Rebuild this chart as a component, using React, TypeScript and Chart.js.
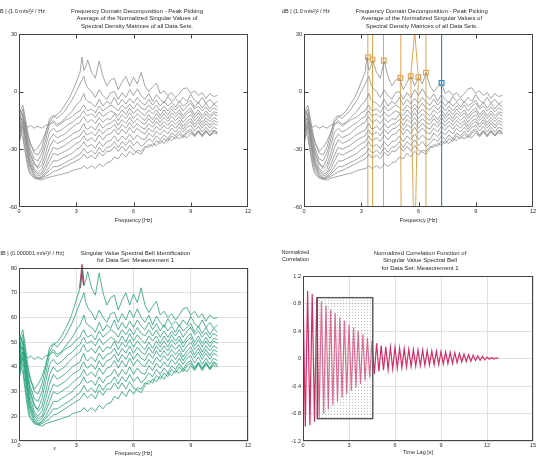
import { useEffect, useRef } from "react";
import { Chart, registerables } from "chart.js";
Chart.register(...registerables);

const FONT = "'Liberation Sans', Arial, sans-serif";

// ---------- spectra (dB re (0.000001 m/s²)² / Hz, Measurement 1 view) ----------
const FREQ_HZ = [0, 0.1, 0.2, 0.3, 0.4, 0.5, 0.6, 0.8, 1.0, 1.2, 1.4, 1.6, 1.8, 2.0, 2.2, 2.4, 2.6, 2.8, 3.0, 3.2, 3.3, 3.4, 3.5, 3.6, 3.8, 4.0, 4.2, 4.4, 4.6, 4.8, 5.0, 5.2, 5.4, 5.6, 5.8, 6.0, 6.2, 6.4, 6.6, 6.8, 7.0, 7.2, 7.4, 7.6, 7.8, 8.0, 8.2, 8.4, 8.6, 8.8, 9.0, 9.2, 9.4, 9.6, 9.8, 10.0, 10.2, 10.4];

const SV_01 = [44, 50, 53, 48, 42, 38, 35, 31, 33, 36, 41, 46, 49, 50, 52, 55, 58, 62, 67, 72, 80, 73, 75, 78.5, 72, 69, 78, 70, 65, 68, 69, 63, 67, 70, 65, 69.5, 66, 72, 65, 62, 64.5, 66.5, 61, 62.5, 60, 61.5, 59, 61, 63.5, 64, 61, 62.5, 60, 61.5, 58.5, 61, 59.5, 60];
const SV_02 = [48, 53, 55, 50, 44, 39, 35, 30, 29, 33, 40, 48, 49.5, 48, 50, 52, 55, 58, 62, 66, 68, 70, 66, 64, 62, 59, 63, 60, 58, 61.5, 62, 58, 61.5, 59, 63, 60, 63.5, 60, 58, 61, 57, 60.5, 58, 56, 59.5, 57, 58.5, 56.5, 59, 57, 60.5, 57.5, 56, 59, 56, 58, 55.5, 57];
const SV_03 = [42, 47, 50, 46, 41, 36, 32, 27, 26, 30, 37, 45, 47, 45, 46, 48, 50, 52, 55, 57, 59, 61, 58, 57, 56, 54, 58, 54.5, 57, 55.5, 59, 55, 58, 55.5, 58.5, 56, 59, 56.5, 55, 58, 55, 57.5, 54.5, 57, 54.5, 56.5, 54, 57, 54.5, 56, 57.5, 54, 56.5, 53.5, 56, 53, 55.5, 54];
const SV_04 = [40, 44, 46, 45, 44, 43.5, 44.5, 43, 44, 43, 44.5, 45, 46, 44, 45.5, 47, 48, 49, 51, 52, 54, 55, 53, 52, 53, 51, 54.5, 52, 53.5, 55, 54, 52, 55, 53, 55.5, 53, 56, 53.5, 52.5, 55, 52.5, 55, 52, 54.5, 52, 54.5, 52.5, 55, 52, 54.5, 56, 53, 54.5, 52, 54, 51.5, 53.5, 52.5];
const SV_05 = [38, 45, 48, 44, 38, 33, 29, 24, 23, 27, 34, 41, 43, 41, 42, 43.5, 45, 46, 48, 49, 51, 52, 50, 49.5, 50.5, 48.5, 51.5, 49, 50.5, 52, 51, 49.5, 52.5, 50, 53.5, 50.5, 53, 51, 49.5, 52.5, 50.5, 52.5, 49.5, 52.5, 50, 53, 50.5, 52.5, 49.5, 52, 53.5, 50, 52.5, 49.5, 52, 49.5, 51.5, 51];
const SV_06 = [46, 50, 51, 45, 39, 34, 30, 25, 22, 24, 30, 37, 40, 38, 39, 40, 42, 43.5, 45, 46, 48, 49, 47, 46, 47.5, 45.5, 48.5, 46, 48, 47.5, 50.5, 47, 50, 48, 51, 48, 50.5, 48.5, 47, 50, 47.5, 50.5, 48, 50.5, 48, 51, 49, 51, 48, 50.5, 52, 48.5, 51, 48, 50.5, 48, 50.5, 49.5];
const SV_07 = [36, 42, 46, 42, 36, 31, 27, 22, 20, 22, 27, 33, 37, 35, 36, 37, 38.5, 40, 41, 42, 44, 45.5, 43, 42.5, 44, 42, 45.5, 43, 45, 45.5, 47.5, 44.5, 47.5, 45.5, 48.5, 45.5, 48, 46, 45, 48, 45.5, 48.5, 46, 48.5, 46.5, 49, 47, 49, 46, 48.5, 50, 47, 49, 46, 48.5, 46.5, 48.5, 47.5];
const SV_08 = [50, 52, 49, 42, 35, 29, 25, 21, 19, 20, 24, 29, 33, 32, 33, 34, 35.5, 37, 38, 39, 41, 42, 40, 39.5, 41, 39, 42.5, 40, 42.5, 43, 45, 42, 45, 43, 46, 43, 45.5, 43.5, 42.5, 45.5, 43.5, 46.5, 44, 46.5, 44.5, 47, 45, 47, 44, 46.5, 48, 45, 47.5, 44.5, 47, 44.5, 47, 46];
const SV_09 = [34, 40, 44, 40, 34, 28, 24, 20, 18, 19, 22, 26, 30, 29, 30, 31, 32, 33.5, 35, 36, 37.5, 39, 37, 36.5, 38, 36, 39.5, 37, 39.5, 40, 42.5, 39.5, 42.5, 40, 43.5, 40.5, 43, 41, 40, 43, 41, 44, 42, 44.5, 42.5, 45, 43, 45.5, 42.5, 45, 46.5, 43.5, 46, 43, 45.5, 43, 45.5, 44.5];
const SV_10 = [44, 48, 47, 40, 33, 27, 23, 19, 17, 18, 20, 23, 26, 26, 27, 28, 29, 30, 32, 33, 34.5, 36, 34, 33.5, 34.5, 32.5, 36, 33.5, 36, 36.5, 39, 36, 39, 37, 40, 37, 39.5, 37.5, 37, 40.5, 38.5, 41.5, 39.5, 42, 40, 43, 41, 43.5, 41, 43.5, 44.5, 41.5, 44, 41, 43.5, 41, 43.5, 42.5];
const SV_11 = [40, 45, 43, 37, 31, 25, 22, 18, 17, 17.5, 19, 21, 23, 23, 24, 25, 26, 27, 28.5, 29.5, 31, 32.5, 31, 30, 31.5, 29.5, 33, 30.5, 33, 33.5, 36, 33, 36, 34, 37, 34, 36, 33.5, 35, 37.5, 36, 39, 37, 39.5, 37.5, 40.5, 39, 41.5, 39, 41.5, 42.5, 39.5, 42, 39.5, 42, 39.5, 42, 41];
const SV_12 = [38, 43, 40, 34, 28, 23, 20, 17.5, 16.5, 17, 18, 19, 20.5, 21, 22, 23, 24, 25, 26, 27, 28, 29.5, 28, 27.5, 29, 27, 30.5, 28.5, 31, 31, 33.5, 31, 33.5, 31, 34, 31.5, 30.5, 29.5, 32.5, 34.5, 33.5, 36.5, 35, 37.5, 36, 39, 37.5, 40, 38, 40.5, 41.5, 39, 41.5, 39, 41.5, 39, 41.5, 40.5];
const SV_13 = [35, 40, 38, 32, 26, 21, 19, 17, 16.5, 16, 17, 17.5, 18, 18.5, 19, 19.5, 20, 21, 21.5, 22, 22.5, 23.5, 22.5, 22, 23.5, 22, 24.5, 23, 25, 25.5, 28, 27, 30, 28, 31, 29, 31.5, 31, 33.5, 33, 35, 34, 36.5, 35, 37.5, 36.5, 38.5, 37.5, 39, 38, 40.5, 38.5, 41, 38.5, 41, 39, 40.5, 40];
const SV_LINES = [SV_01, SV_02, SV_03, SV_04, SV_05, SV_06, SV_07, SV_08, SV_09, SV_10, SV_11, SV_12, SV_13];

// level difference between the Measurement 1 view and the averaged view (dB)
const AVERAGE_VIEW_SHIFT_DB = 62;

// spectral bell (red) on the first singular value
const BELL_FREQ_HZ = [3.2, 3.3, 3.4];

// peak picking cursors (averaged view)
const PEAK_FREQ_HZ = [3.35, 3.59, 4.18, 5.05, 5.59, 5.99, 6.39];
const PEAK_DB = [18.0, 16.7, 16.1, 7.1, 8.0, 7.5, 9.9];
const CURSOR_TOP_HZ = [3.34, 3.59, 4.15, 5.07, 5.84, 5.77, 6.39];
const CURSOR_BOTTOM_HZ = [3.33, 3.59, 4.15, 5.09, 5.74, 5.84, 6.38];
const SELECTED_FREQ_HZ = [7.21];
const SELECTED_DB = [4.5];

// ---------- normalized correlation function ----------
const CORR_LAG_S = [0, 0.15, 0.3, 0.45, 0.6, 0.75, 0.9, 1.05, 1.2, 1.35, 1.5, 1.65, 1.8, 1.95, 2.1, 2.25, 2.4, 2.55, 2.7, 2.85, 3.0, 3.15, 3.3, 3.45, 3.6, 3.75, 3.9, 4.05, 4.2, 4.35, 4.5, 4.65, 4.8, 4.95, 5.1, 5.25, 5.4, 5.55, 5.7, 5.85, 6.0, 6.15, 6.3, 6.45, 6.6, 6.75, 6.9, 7.05, 7.2, 7.35, 7.5, 7.65, 7.8, 7.95, 8.1, 8.25, 8.4, 8.55, 8.7, 8.85, 9.0, 9.15, 9.3, 9.45, 9.6, 9.75, 9.9, 10.05, 10.2, 10.35, 10.5, 10.65, 10.8, 10.95, 11.1, 11.25, 11.4, 11.55, 11.7, 11.85, 12.0, 12.15, 12.3, 12.45, 12.6, 12.75];
const CORR_VALUE = [1.0, -0.99, 0.98, -0.97, 0.94, -0.92, 0.89, -0.86, 0.83, -0.8, 0.77, -0.74, 0.71, -0.68, 0.66, -0.63, 0.6, -0.57, 0.55, -0.52, 0.49, -0.47, 0.45, -0.42, 0.4, -0.37, 0.35, -0.32, 0.3, -0.28, 0.26, -0.23, 0.22, -0.19, 0.19, -0.17, 0.17, -0.16, 0.165, -0.15, 0.16, -0.14, 0.15, -0.13, 0.14, -0.12, 0.135, -0.115, 0.13, -0.11, 0.125, -0.105, 0.12, -0.1, 0.115, -0.095, 0.11, -0.09, 0.105, -0.085, 0.1, -0.08, 0.095, -0.075, 0.09, -0.07, 0.085, -0.06, 0.075, -0.05, 0.065, -0.045, 0.055, -0.04, 0.05, -0.03, 0.04, -0.025, 0.03, -0.02, 0.02, -0.01, 0.015, -0.008, 0.01, 0.0];
const FIT_WINDOW_LAG_S = [0.93, 4.55];
const FIT_WINDOW_VALUE = [-0.875, 0.885];

// ---------- colours ----------
const GRAY = "#8d8d8d";
const GREEN = "#24a07a";
const RED = "#e0195a";
const ORANGE = "#e2a552";
const BLUE = "#2f8fd0";
const CORR = "#d42c66";
const TEXT = "#2a2a2a";

type Txt = { text: string; x: number; y: number; size: number; align?: CanvasTextAlign };
type Decor = { innerX?: number[]; innerY?: number[]; texts: Txt[]; box?: boolean };

function makeDecor(d: Decor) {
  return {
    id: "decor",
    afterDatasetsDraw(chart: any) {
      if (!d.box) return;
      const { ctx } = chart;
      const xs = chart.scales.x;
      const ys = chart.scales.y;
      const x0 = xs.getPixelForValue(FIT_WINDOW_LAG_S[0]);
      const x1 = xs.getPixelForValue(FIT_WINDOW_LAG_S[1]);
      const y0 = ys.getPixelForValue(FIT_WINDOW_VALUE[1]);
      const y1 = ys.getPixelForValue(FIT_WINDOW_VALUE[0]);
      const pc = document.createElement("canvas");
      pc.width = 3;
      pc.height = 3;
      const p = pc.getContext("2d")!;
      p.fillStyle = "rgba(255,255,255,0.3)";
      p.fillRect(0, 0, 3, 3);
      p.fillStyle = "rgba(100,100,100,0.4)";
      p.fillRect(1, 1, 1, 1);
      const pattern = ctx.createPattern(pc, "repeat");
      ctx.save();
      ctx.fillStyle = pattern;
      ctx.fillRect(x0, y0, x1 - x0, y1 - y0);
      ctx.strokeStyle = "#555";
      ctx.lineWidth = 1.4;
      ctx.strokeRect(x0, y0, x1 - x0, y1 - y0);
      ctx.restore();
    },
    afterDraw(chart: any) {
      const { ctx, chartArea: a } = chart;
      const xs = chart.scales.x;
      const ys = chart.scales.y;
      ctx.save();
      ctx.strokeStyle = "#444";
      ctx.lineWidth = 1;
      const L = Math.round(a.left) + 0.5;
      const R = Math.round(a.right) - 0.5;
      const T = Math.round(a.top) + 0.5;
      const B = Math.round(a.bottom) - 0.5;
      ctx.strokeRect(L, T, R - L, B - T);
      ctx.beginPath();
      (d.innerX || []).forEach((v) => {
        const px = Math.round(xs.getPixelForValue(v)) + 0.5;
        ctx.moveTo(px, T);
        ctx.lineTo(px, T + 4);
        ctx.moveTo(px, B);
        ctx.lineTo(px, B - 4);
      });
      (d.innerY || []).forEach((v) => {
        const py = Math.round(ys.getPixelForValue(v)) + 0.5;
        ctx.moveTo(L, py);
        ctx.lineTo(L + 4, py);
        ctx.moveTo(R, py);
        ctx.lineTo(R - 4, py);
      });
      ctx.stroke();
      ctx.fillStyle = TEXT;
      ctx.textBaseline = "middle";
      d.texts.forEach((t) => {
        ctx.font = `${t.size}px ${FONT}`;
        ctx.textAlign = t.align || "center";
        ctx.fillText(t.text, t.x, t.y);
      });
      ctx.restore();
    },
  };
}

type AxisSpec = {
  xMin: number; xMax: number; xStep: number;
  yMin: number; yMax: number; yStep: number;
  grid: boolean; yWidth: number; xHeight: number;
  xTitle: string; xTitlePad: number;
  padding: { left: number; top: number; right: number; bottom: number };
};

function buildOptions(s: AxisSpec) {
  const f = { family: FONT, size: 5.5 };
  return {
    responsive: false,
    animation: false as const,
    devicePixelRatio: 1,
    events: [],
    layout: { padding: s.padding },
    plugins: { legend: { display: false }, tooltip: { enabled: false }, title: { display: false } },
    elements: { point: { radius: 0 }, line: { tension: 0 } },
    scales: {
      x: {
        type: "linear" as const,
        min: s.xMin,
        max: s.xMax,
        ticks: { stepSize: s.xStep, font: f, color: TEXT, padding: 1, maxRotation: 0, autoSkip: false },
        grid: { display: s.grid, color: "#e0e0e0", lineWidth: 1, drawTicks: false },
        border: { display: false },
        title: { display: true, text: s.xTitle, font: f, color: TEXT, padding: { top: 0, bottom: s.xTitlePad } },
        afterFit: (sc: any) => { sc.height = s.xHeight; },
      },
      y: {
        type: "linear" as const,
        min: s.yMin,
        max: s.yMax,
        ticks: { stepSize: s.yStep, font: f, color: TEXT, padding: 2, autoSkip: false },
        grid: { display: s.grid, color: "#e0e0e0", lineWidth: 1, drawTicks: false },
        border: { display: false },
        afterFit: (sc: any) => { sc.width = s.yWidth; },
      },
    },
  };
}

function spectrumSets(shift: number, color: string) {
  return SV_LINES.map((line) => ({
    data: FREQ_HZ.map((fq, i) => ({ x: fq, y: line[i] - shift })),
    borderColor: color,
    borderWidth: 0.8,
    pointRadius: 0,
    fill: false,
  }));
}

function configA() {
  return {
    type: "line" as const,
    data: { datasets: spectrumSets(AVERAGE_VIEW_SHIFT_DB, GRAY) },
    options: buildOptions({
      xMin: 0, xMax: 12, xStep: 3, yMin: -60, yMax: 30, yStep: 30, grid: false,
      yWidth: 19, xHeight: 23, xTitle: "Frequency [Hz]", xTitlePad: 6.5,
      padding: { left: 0, top: 34, right: 22, bottom: 0 },
    }),
    plugins: [makeDecor({
      innerX: [3, 6, 9], innerY: [0, -30],
      texts: [
        { text: "dB | (1.0 m/s²)² / Hz", x: -3, y: 11, size: 5.5, align: "left" },
        { text: "Frequency Domain Decomposition - Peak Picking", x: 137, y: 11.5, size: 6 },
        { text: "Average of the Normalized Singular Values of", x: 137, y: 18.8, size: 6 },
        { text: "Spectral Density Matrices of all Data Sets.", x: 137, y: 26.1, size: 6 },
      ],
    })],
  };
}

function configB() {
  const cursors = PEAK_FREQ_HZ.map((pf, i) => ({
    data: [
      { x: CURSOR_BOTTOM_HZ[i], y: -65 },
      { x: pf, y: PEAK_DB[i] },
      { x: CURSOR_TOP_HZ[i], y: 35 },
    ],
    borderColor: ORANGE,
    borderWidth: 1,
    pointRadius: 0,
    fill: false,
  }));
  const selected = {
    data: [
      { x: SELECTED_FREQ_HZ[0], y: -65 },
      { x: SELECTED_FREQ_HZ[0], y: 35 },
    ],
    borderColor: BLUE,
    borderWidth: 1.2,
    pointRadius: 0,
    fill: false,
  };
  const markers = {
    data: PEAK_FREQ_HZ.map((pf, i) => ({ x: pf, y: PEAK_DB[i] })),
    showLine: false,
    pointStyle: "rect",
    pointRadius: 3.3,
    pointBorderWidth: 1.2,
    pointBorderColor: ORANGE,
    pointBackgroundColor: "rgba(255,255,255,0.55)",
    borderColor: ORANGE,
  };
  const selMarker = {
    data: SELECTED_FREQ_HZ.map((sf, i) => ({ x: sf, y: SELECTED_DB[i] })),
    showLine: false,
    pointStyle: "rect",
    pointRadius: 3.3,
    pointBorderWidth: 1.2,
    pointBorderColor: BLUE,
    pointBackgroundColor: "rgba(255,255,255,0.55)",
    borderColor: BLUE,
  };
  return {
    type: "line" as const,
    data: { datasets: [...spectrumSets(AVERAGE_VIEW_SHIFT_DB, GRAY), ...cursors, selected, markers, selMarker] },
    options: buildOptions({
      xMin: 0, xMax: 12, xStep: 3, yMin: -60, yMax: 30, yStep: 30, grid: false,
      yWidth: 34, xHeight: 23, xTitle: "Frequency [Hz]", xTitlePad: 6.5,
      padding: { left: 0, top: 34, right: 7, bottom: 0 },
    }),
    plugins: [makeDecor({
      innerX: [3, 6, 9], innerY: [0, -30],
      texts: [
        { text: "dB | (1.0 m/s²)² / Hz", x: 12, y: 11, size: 5.5, align: "left" },
        { text: "Frequency Domain Decomposition - Peak Picking", x: 151.7, y: 11.5, size: 6 },
        { text: "Average of the Normalized Singular Values of", x: 151.7, y: 18.8, size: 6 },
        { text: "Spectral Density Matrices of all Data Sets.", x: 151.7, y: 26.1, size: 6 },
      ],
    })],
  };
}

function configC() {
  const bell = {
    data: BELL_FREQ_HZ.map((bf) => ({ x: bf, y: SV_01[FREQ_HZ.indexOf(bf)] })),
    borderColor: RED,
    borderWidth: 1.8,
    pointRadius: 0,
    fill: false,
    clip: 4,
  };
  return {
    type: "line" as const,
    data: { datasets: [...spectrumSets(0, GREEN), bell] },
    options: buildOptions({
      xMin: 0, xMax: 12, xStep: 3, yMin: 10, yMax: 80, yStep: 10, grid: true,
      yWidth: 19, xHeight: 19, xTitle: "Frequency [Hz]", xTitlePad: 3.7,
      padding: { left: 0, top: 38, right: 22, bottom: 0 },
    }),
    plugins: [makeDecor({
      texts: [
        { text: "dB | (0.000001 m/s²)² / Hz]", x: -1, y: 23, size: 5.5, align: "left" },
        { text: "Singular Value Spectral Bell Identification", x: 135.5, y: 23, size: 6 },
        { text: "for Data Set: Measurement 1", x: 135.5, y: 30.6, size: 6 },
        { text: "x", x: 54.7, y: 218.7, size: 4.5 },
      ],
    })],
  };
}

function configD() {
  const corr = {
    data: CORR_LAG_S.map((t, i) => ({ x: t, y: CORR_VALUE[i] })),
    borderColor: CORR,
    borderWidth: 1.2,
    pointRadius: 0,
    fill: false,
  };
  return {
    type: "line" as const,
    data: { datasets: [corr] },
    options: buildOptions({
      xMin: 0, xMax: 15, xStep: 3, yMin: -1.2, yMax: 1.2, yStep: 0.4, grid: true,
      yWidth: 33, xHeight: 19, xTitle: "Time Lag [s]", xTitlePad: 4,
      padding: { left: 0, top: 46, right: 7, bottom: 0 },
    }),
    plugins: [makeDecor({
      box: true,
      texts: [
        { text: "Normalized", x: 25.5, y: 22.7, size: 5.5 },
        { text: "Correlation", x: 25.5, y: 29.4, size: 5.5 },
        { text: "Normalized Correlation Function of", x: 150, y: 23.3, size: 6 },
        { text: "Singular Value Spectral Bell", x: 150, y: 30.7, size: 6 },
        { text: "for Data Set: Measurement 1", x: 150, y: 38, size: 6 },
      ],
    })],
  };
}

function Panel({ left, top, build }: { left: number; top: number; build: () => any }) {
  const ref = useRef<HTMLCanvasElement>(null);
  useEffect(() => {
    const chart = new Chart(ref.current as HTMLCanvasElement, build());
    return () => chart.destroy();
  }, []);
  return (
    <canvas
      ref={ref}
      width={270}
      height={230}
      style={{ position: "absolute", left, top, width: 270, height: 230, display: "block" }}
    />
  );
}

export default function App() {
  return (
    <div style={{ position: "fixed", left: 0, top: 0, width: 540, height: 460, background: "#fff", overflow: "hidden" }}>
      <Panel left={0} top={0} build={configA} />
      <Panel left={270} top={0} build={configB} />
      <Panel left={0} top={230} build={configC} />
      <Panel left={270} top={230} build={configD} />
    </div>
  );
}
